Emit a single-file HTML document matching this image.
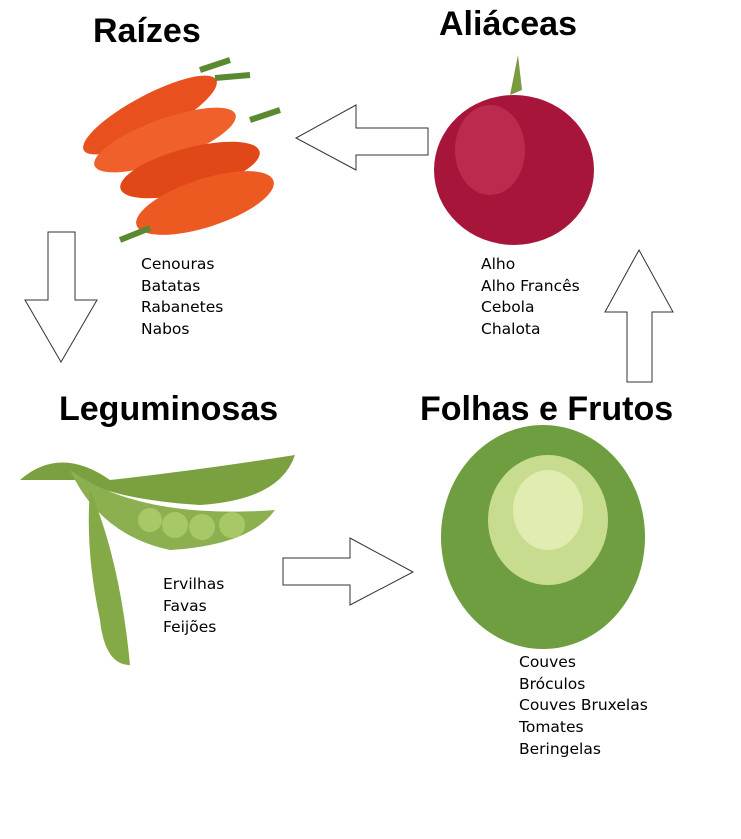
<!DOCTYPE html>
<html><head><meta charset="utf-8"><style>
body{margin:0;width:741px;height:839px;background:#fff;position:relative;overflow:hidden;font-family:"Liberation Sans",sans-serif}
.t{position:absolute;font-weight:bold;font-size:34px;color:#000;white-space:nowrap}
.l{position:absolute;font-family:"DejaVu Sans",sans-serif;font-size:15.5px;line-height:21.7px;color:#000;white-space:nowrap}
svg{position:absolute;left:0;top:0}
</style></head><body>
<svg width="741" height="839">
<g>
<ellipse cx="150" cy="115" rx="75" ry="20" fill="#e8501e" transform="rotate(-28 150 115)"/>
<ellipse cx="165" cy="140" rx="75" ry="21" fill="#f0602a" transform="rotate(-20 165 140)"/>
<ellipse cx="190" cy="170" rx="72" ry="22" fill="#e04818" transform="rotate(-15 190 170)"/>
<ellipse cx="205" cy="203" rx="72" ry="24" fill="#ec5a22" transform="rotate(-18 205 203)"/>
<path d="M200 70 L230 60 M215 78 L250 75 M250 120 L280 110 M120 240 L150 228" stroke="#5a8a30" stroke-width="6"/>
</g>
<ellipse cx="514" cy="170" rx="80" ry="75" fill="#a8153a"/>
<ellipse cx="490" cy="150" rx="35" ry="45" fill="#c93a5c" opacity=".6"/>
<path d="M518 55 L522 90 L510 95 Z" fill="#7a9a40"/>
<path d="M20 480 Q60 445 110 480 Q200 470 295 455 Q280 500 200 505 Q120 500 80 480 Z" fill="#7aa040"/>
<path d="M70 470 Q140 520 275 510 Q250 545 170 550 Q100 535 70 470Z" fill="#8cb050"/>
<g fill="#a8c868"><circle cx="150" cy="520" r="12"/><circle cx="175" cy="525" r="13"/><circle cx="202" cy="527" r="13"/><circle cx="232" cy="525" r="13"/></g>
<path d="M90 490 Q120 560 130 665 Q105 665 100 620 Q85 550 90 490Z" fill="#84aa48"/>
<ellipse cx="543" cy="537" rx="102" ry="112" fill="#6e9e40"/>
<ellipse cx="548" cy="520" rx="60" ry="65" fill="#c8dc90"/>
<ellipse cx="548" cy="510" rx="35" ry="40" fill="#e0ecb0"/>
<g fill="#fff" stroke="#333" stroke-width="1">
<polygon points="428,128 356,128 356,105 296,138 356,170 356,155 428,155"/>
<polygon points="48,232 75,232 75,300 97,300 61,362 25,300 48,300"/>
<polygon points="627,382 652,382 652,312 673,312 639,250 605,312 627,312"/>
<polygon points="283,558 350,558 350,538 413,572 350,605 350,585 283,585"/>
</g>
</svg>
<div class="t" style="left:93px;top:12px">Raízes</div>
<div class="t" style="left:439px;top:5px">Aliáceas</div>
<div class="t" style="left:59px;top:390px">Leguminosas</div>
<div class="t" style="left:420px;top:390px">Folhas e Frutos</div>
<div class="l" style="left:141px;top:254px">Cenouras<br>Batatas<br>Rabanetes<br>Nabos</div>
<div class="l" style="left:481px;top:254px">Alho<br>Alho Francês<br>Cebola<br>Chalota</div>
<div class="l" style="left:163px;top:574px">Ervilhas<br>Favas<br>Feijões</div>
<div class="l" style="left:519px;top:652px">Couves<br>Bróculos<br>Couves Bruxelas<br>Tomates<br>Beringelas</div>
</body></html>
